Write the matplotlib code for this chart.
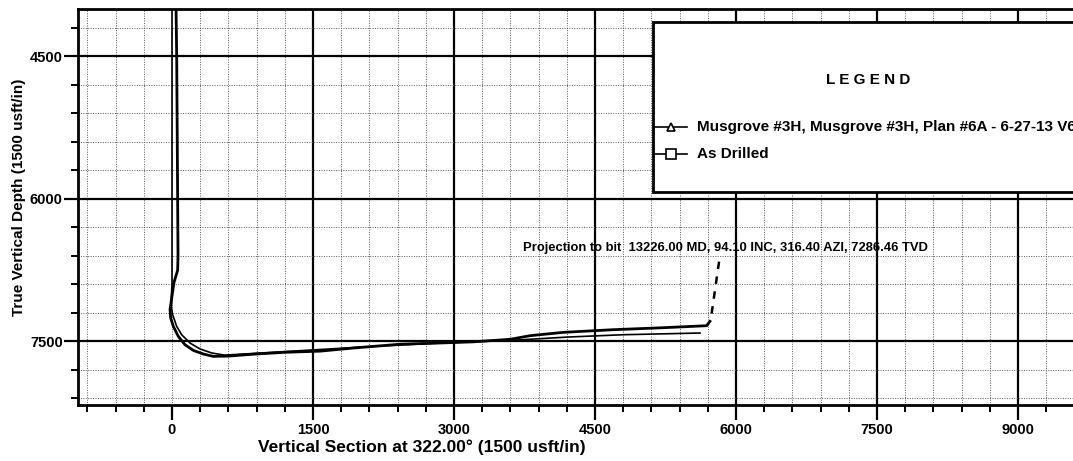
import matplotlib
matplotlib.use("Agg")
import matplotlib.pyplot as plt
from matplotlib.patches import Rectangle
from matplotlib.lines import Line2D
from matplotlib.ticker import MultipleLocator, FixedLocator

plt.rcParams['font.family'] = ['Liberation Sans', 'DejaVu Sans']

# ---- data ----
plan_vs = [0, 0, -8, -5, 7, 50, 103, 191, 298, 422, 560, 1500, 2200, 2900, 3600, 4200, 4800, 5617]
plan_tvd = [4000, 6900, 7050, 7150, 7219, 7342, 7430, 7517, 7580, 7622, 7645, 7590, 7550, 7515, 7490, 7455, 7430, 7412]

drilled_vs = [43, 50, 60, 64, 60, 21, -21, -14, 14, 67, 138, 227, 333, 439, 600, 865, 1200, 1574,
              1929, 2426, 2851, 3200, 3600, 3809, 4163, 4695, 5227, 5688, 5723]
drilled_tvd = [4000, 4500, 6000, 6600, 6750, 6880, 7166, 7254, 7342, 7447, 7535, 7595, 7633, 7658,
               7655, 7635, 7615, 7603, 7570, 7530, 7517, 7505, 7478, 7440, 7405, 7377, 7356, 7335, 7289]

x_ticks = [0, 1500, 3000, 4500, 6000, 7500, 9000]
y_ticks = [4500, 6000, 7500]

proj_text = "Projection to bit  13226.00 MD, 94.10 INC, 316.40 AZI, 7286.46 TVD"
proj_text_xy = (3734, 6513)
proj_leader_vs = [5820, 5730]
proj_leader_tvd = [6660, 7280]

legend_labels = ["Musgrove #3H, Musgrove #3H, Plan #6A - 6-27-13 V6", "As Drilled"]

W, H = 1073, 461
fig = plt.figure(figsize=(W / 100, H / 100), dpi=100)
ax = fig.add_axes([78 / W, (H - 405) / H, 1034 / W, 396 / H])
ax.set_xlim(-1000, 10000)
ax.set_ylim(8170, 4000)

# ticks
ax.xaxis.set_major_locator(FixedLocator(x_ticks))
ax.yaxis.set_major_locator(FixedLocator(y_ticks))
ax.xaxis.set_minor_locator(MultipleLocator(300))
ax.yaxis.set_minor_locator(MultipleLocator(300))
ax.set_xticklabels([str(v) for v in x_ticks])
ax.set_yticklabels([str(v) for v in y_ticks])
ax.tick_params(which='major', axis='x', length=11, width=1.6, direction='out', pad=2,
               labelsize=10.5)
ax.tick_params(which='major', axis='y', length=10, width=1.6, direction='out', pad=1,
               labelsize=10.5)
ax.tick_params(which='minor', length=5, width=1.4, direction='out')
for lab in ax.get_xticklabels() + ax.get_yticklabels():
    lab.set_fontweight('bold')

# grid
ax.grid(which='major', color='black', linewidth=1.6, linestyle='-')
ax.grid(which='minor', color='0.35', linewidth=0.7, linestyle=(0, (1, 1.5)))
for t in ax.xaxis.get_major_ticks():
    if t.get_loc() == 0:
        t.gridline.set_color('0.35')
        t.gridline.set_linewidth(0.7)
        t.gridline.set_linestyle((0, (1, 1.5)))
ax.set_axisbelow(True)

for s in ax.spines.values():
    s.set_linewidth(2.0)

# curves
ax.plot(plan_vs, plan_tvd, color='black', linewidth=1.2, zorder=3)
ax.plot(drilled_vs, drilled_tvd, color='black', linewidth=2.0, zorder=4)

# projection annotation
ax.text(proj_text_xy[0], proj_text_xy[1], proj_text, fontsize=9.4, fontweight='bold',
        ha='left', va='center', zorder=5)
ax.plot(proj_leader_vs, proj_leader_tvd, color='black', linewidth=1.8,
        linestyle=(0, (3, 3)), zorder=5)

# axis labels
ax.set_xlabel("Vertical Section at 322.00° (1500 usft/in)", fontsize=12.5, fontweight='bold')
ax.xaxis.set_label_coords((422 - 78) / 1034, -0.088)
ax.set_ylabel("True Vertical Depth (1500 usft/in)", fontsize=11, fontweight='bold')
ax.yaxis.set_label_coords(-0.050, 0.525)

# legend box
tf = fig.transFigure
box = Rectangle((653 / W, (H - 191.7) / H), 0.6, (191.7 - 21.7) / H, transform=tf,
                facecolor='white', edgecolor='black', linewidth=2.0, zorder=10, clip_on=False)
ax.add_patch(box)
ax.text(868 / W, (H - 80) / H, "L E G E N D", transform=tf, ha='center', va='center',
        fontsize=11, fontweight='bold', zorder=11, clip_on=False)
for i, (lab, mk, ypx) in enumerate(zip(legend_labels, ['^', 's'], [127.3, 154])):
    yy = (H - ypx) / H
    ln = Line2D([655 / W, 687 / W], [yy, yy], transform=tf, color='black', linewidth=1.2,
                marker=None, zorder=11)
    ax.add_artist(ln)
    mkr = Line2D([671 / W], [yy], transform=tf, color='black', marker=mk, markersize=7 if mk == 's' else 6,
                 markerfacecolor='white', markeredgewidth=1.2, linestyle='none', zorder=12)
    ax.add_artist(mkr)
    ax.text(697 / W, yy, lab, transform=tf, ha='left', va='center', fontsize=11,
            fontweight='bold', zorder=11, clip_on=False)

fig.savefig("out.png", dpi=100)
